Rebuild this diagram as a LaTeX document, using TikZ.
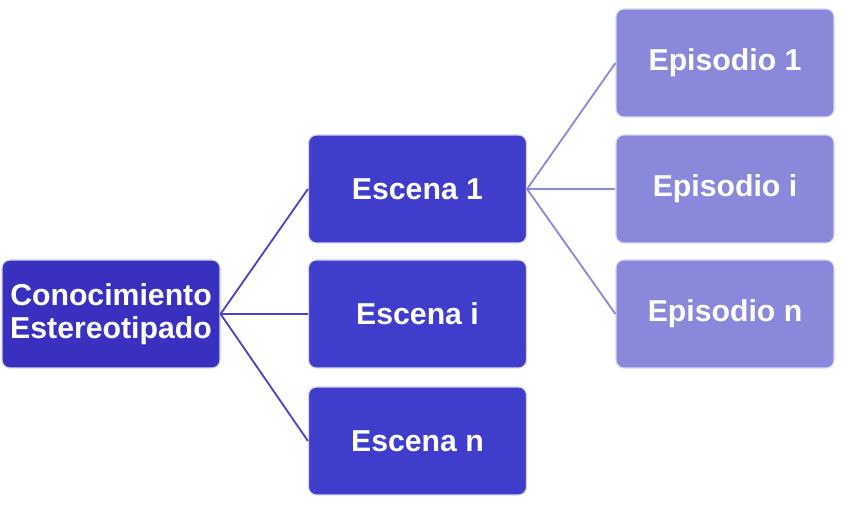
\documentclass[tikz,border=0pt]{standalone}
\usepackage{fontspec}
\setmainfont{Liberation Sans}
\usepackage{tikz}
\definecolor{rootblue}{HTML}{3A30BF}
\definecolor{sceneblue}{HTML}{403DCC}
\definecolor{episodeblue}{HTML}{8A88DB}
\definecolor{rimcol}{HTML}{D9D7F0}
\definecolor{darkline}{HTML}{4A44C2}
\definecolor{lightline}{HTML}{8C8AD8}
\tikzset{box/.style={draw=rimcol, line width=0.8pt, rounded corners=0.2cm,
        minimum width=5.45cm, minimum height=2.7cm, inner sep=0mm,
        text=white, align=center, font=\fontsize{21.5}{23.8}\selectfont\bfseries},
    root/.style={box, fill=rootblue},
    scene/.style={box, fill=sceneblue},
    episode/.style={box, fill=episodeblue}}

\begin{document}
\begin{tikzpicture}
    \useasboundingbox (0cm, 0cm) rectangle (21.075cm, 12.675cm);

    \node (ce) at (2.775cm, 4.825cm) [root] {Conocimiento\\Estereotipado};

    \node (e1) at (10.4375cm, 7.95cm) [scene] {Escena 1};
    \node (ei) at (10.4375cm, 4.825cm) [scene] {Escena i};
    \node (en) at (10.4375cm, 1.65cm) [scene] {Escena n};

    \node (p1) at (18.125cm, 11.1cm) [episode] {Episodio 1};
    \node (pi) at (18.125cm, 7.95cm) [episode] {Episodio i};
    \node (pn) at (18.125cm, 4.825cm) [episode] {Episodio n};

    \draw[darkline, line width=1.3pt] (ce.east) -- (e1.west);
    \draw[darkline, line width=1.3pt] (ce.east) -- (ei.west);
    \draw[darkline, line width=1.3pt] (ce.east) -- (en.west);

    \draw[lightline, line width=1.3pt] (e1.east) -- (p1.west);
    \draw[lightline, line width=1.3pt] (e1.east) -- (pi.west);
    \draw[lightline, line width=1.3pt] (e1.east) -- (pn.west);
\end{tikzpicture}
\end{document}
